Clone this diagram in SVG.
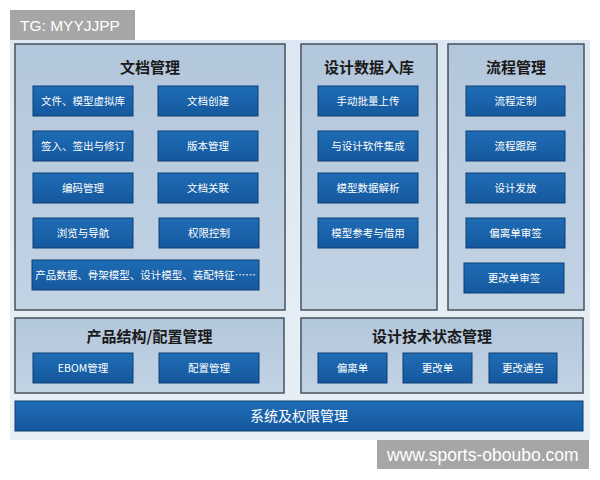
<svg xmlns="http://www.w3.org/2000/svg" width="600" height="480" viewBox="0 0 600 480">
<defs>
<linearGradient id="bg" x1="0" y1="0" x2="0" y2="1"><stop offset="0" stop-color="#dde7f1"/><stop offset="1" stop-color="#e8eff6"/></linearGradient>
<linearGradient id="pn" x1="0" y1="0" x2="0" y2="1"><stop offset="0" stop-color="#b3c7dc"/><stop offset="1" stop-color="#c2d3e4"/></linearGradient>
<linearGradient id="bx" x1="0" y1="0" x2="0" y2="1"><stop offset="0" stop-color="#1f6db5"/><stop offset="1" stop-color="#15589e"/></linearGradient>
<style>
.panel{fill:url(#pn);stroke:#46525e;stroke-width:1.5}
.box{fill:url(#bx);stroke:#0d3f73;stroke-width:1}
.pt{font-family:"Noto Sans CJK SC","Liberation Serif",serif;font-size:15px;font-weight:bold;fill:#1a1a1a;text-anchor:middle}
.bt{font-family:"Noto Sans CJK SC","Liberation Sans",sans-serif;font-size:10.5px;fill:#ffffff;text-anchor:middle}
.wm{font-family:"Liberation Sans",Arial,sans-serif;fill:#ffffff}
</style>
</defs>
<rect x="0" y="0" width="600" height="480" fill="#ffffff"/>
<rect x="10" y="40" width="580" height="400" fill="url(#bg)"/>
<g id="wm1"><rect x="10" y="10" width="125" height="30" fill="#a6a6a6"/><text class="wm" x="20" y="31" style="font-size:15.5px">TG: MYYJJPP</text></g>

<g id="doc">
<rect class="panel" x="15" y="44" width="270" height="266"/>
<text class="pt" x="150" y="73">文档管理</text>
<rect class="box" x="33" y="86" width="100" height="30"/><text class="bt" x="83" y="105">文件、模型虚拟库</text>
<rect class="box" x="158" y="86" width="100" height="30"/><text class="bt" x="208" y="105">文档创建</text>
<rect class="box" x="33" y="131" width="100" height="30"/><text class="bt" x="83" y="150">签入、签出与修订</text>
<rect class="box" x="158" y="131" width="100" height="30"/><text class="bt" x="208" y="150">版本管理</text>
<rect class="box" x="33" y="173" width="100" height="30"/><text class="bt" x="83" y="192">编码管理</text>
<rect class="box" x="158" y="173" width="100" height="30"/><text class="bt" x="208" y="192">文档关联</text>
<rect class="box" x="33" y="218" width="100" height="30"/><text class="bt" x="83" y="237">浏览与导航</text>
<rect class="box" x="159" y="218" width="100" height="30"/><text class="bt" x="209" y="237">权限控制</text>
<rect class="box" x="32" y="260" width="227" height="30"/><text class="bt" x="145.5" y="279">产品数据、骨架模型、设计模型、装配特征……</text>
</g>

<g id="ingest">
<rect class="panel" x="301" y="44" width="136" height="266"/>
<text class="pt" x="369" y="73">设计数据入库</text>
<rect class="box" x="318" y="86" width="100" height="30"/><text class="bt" x="368" y="105">手动批量上传</text>
<rect class="box" x="318" y="131" width="100" height="30"/><text class="bt" x="368" y="150">与设计软件集成</text>
<rect class="box" x="318" y="173" width="100" height="30"/><text class="bt" x="368" y="192">模型数据解析</text>
<rect class="box" x="318" y="218" width="100" height="30"/><text class="bt" x="368" y="237">模型参考与借用</text>
</g>

<g id="flow">
<rect class="panel" x="448" y="44" width="136" height="266"/>
<text class="pt" x="516" y="73">流程管理</text>
<rect class="box" x="466" y="86" width="99" height="30"/><text class="bt" x="515.5" y="105">流程定制</text>
<rect class="box" x="466" y="131" width="99" height="30"/><text class="bt" x="515.5" y="150">流程跟踪</text>
<rect class="box" x="466" y="173" width="99" height="30"/><text class="bt" x="515.5" y="192">设计发放</text>
<rect class="box" x="466" y="218" width="99" height="30"/><text class="bt" x="515.5" y="237">偏离单审签</text>
<rect class="box" x="464" y="263" width="100" height="30"/><text class="bt" x="514" y="282">更改单审签</text>
</g>

<g id="product">
<rect class="panel" x="15" y="318" width="269" height="75"/>
<text class="pt" x="149.5" y="342">产品结构/配置管理</text>
<rect class="box" x="33" y="353" width="100" height="30"/><text class="bt" x="83" y="372">EBOM管理</text>
<rect class="box" x="159" y="353" width="100" height="30"/><text class="bt" x="209" y="372">配置管理</text>
</g>

<g id="state">
<rect class="panel" x="301" y="318" width="282" height="75"/>
<text class="pt" x="432" y="342">设计技术状态管理</text>
<rect class="box" x="318" y="353" width="69" height="30"/><text class="bt" x="352.5" y="372">偏离单</text>
<rect class="box" x="403" y="353" width="69" height="30"/><text class="bt" x="437.5" y="372">更改单</text>
<rect class="box" x="489" y="353" width="68" height="30"/><text class="bt" x="523" y="372">更改通告</text>
</g>

<g id="system">
<rect class="box" x="15" y="401" width="568" height="30"/>
<text class="bt" x="299" y="421" style="font-size:14px">系统及权限管理</text>
</g>

<g id="connectors"></g>

<g id="wm2"><rect x="377" y="440" width="212" height="29" fill="#a6a6a6"/><text class="wm" x="387" y="461" style="font-size:17.5px">www.sports-oboubo.com</text></g>
</svg>
